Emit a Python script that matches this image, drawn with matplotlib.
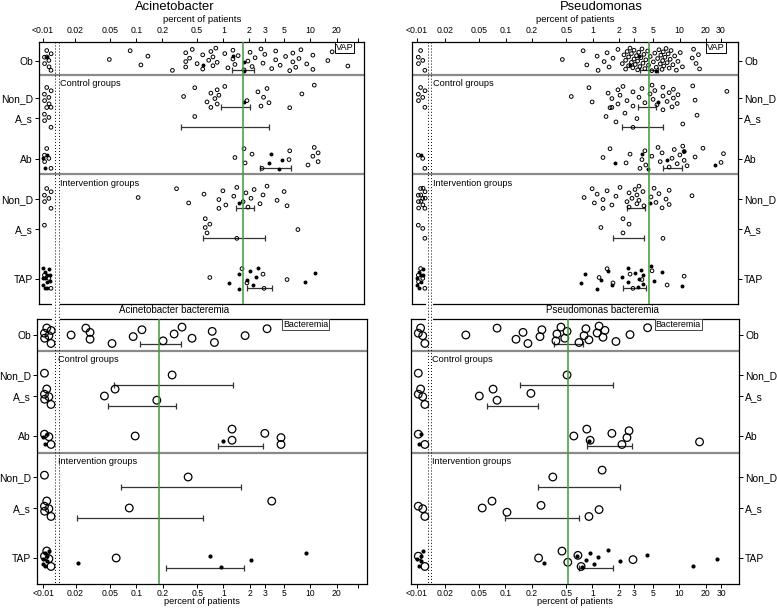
import matplotlib
matplotlib.use("Agg")
import matplotlib.pyplot as plt
from matplotlib.lines import Line2D
from matplotlib.patches import Rectangle
from matplotlib.ticker import NullLocator

plt.rcParams['font.family'] = ['Liberation Sans', 'DejaVu Sans']

W, H = 777, 609

row_keys = ["Ob", "Non_D c", "A_s c", "Ab c", "Non_D i", "A_s i", "TAP i"]
row_labels = ["Ob", "Non_D", "A_s", "Ab", "Non_D", "A_s", "TAP"]
tick_vals = [0.02, 0.05, 0.1, 0.2, 0.5, 1, 2, 3, 5, 10, 20]
tick_text = ["0.02", "0.05", "0.1", "0.2", "0.5", "1", "2", "3", "5", "10", "20"]

# percent of patients per study; 0 means "<0.01"
acin_vap_open = {
    "Ob": [0, 0, 0, 0, 0, 0, 0, 0, 0.049, 0.085, 0.113, 0.136, 0.26, 0.37, 0.37, 0.37, 0.41,
           0.44, 0.50, 0.58, 0.58, 0.68, 0.72, 0.76, 0.76, 0.82, 0.85, 1.04, 1.13, 1.29, 1.29,
           1.36, 1.48, 1.73, 1.92, 2.03, 2.14, 2.32, 2.71, 2.86, 3.0, 3.6, 4.0, 4.0, 4.5, 5.2,
           5.8, 6.3, 6.3, 6.8, 7.4, 7.8, 9.1, 10.7, 10.7, 15.9, 17.8, 27],
    "Non_D c": [0, 0, 0, 0, 0, 0, 0, 0.35, 0.47, 0.65, 0.72, 0.72, 0.80, 0.85, 0.85, 0.89, 1.04,
                1.87, 2.5, 2.71, 2.9, 3.18, 3.35, 8.0, 11.1],
    "A_s c": [0, 0, 0, 0, 0, 0.47, 5.8],
    "Ab c": [0, 0, 0, 0, 0, 1.36, 1.73, 1.78, 2.14, 2.79, 5.69, 5.8, 9.4, 10.7, 11.1, 12.3, 12.3],
    "Non_D i": [0, 0, 0, 0, 0, 0, 0.105, 0.29, 0.40, 0.60, 0.89, 0.89, 0.99, 1.07, 1.32, 1.43,
                1.69, 1.82, 1.92, 2.08, 2.26, 2.64, 2.86, 3.18, 4.15, 5.0, 5.4],
    "A_s i": [0, 0.62, 0.62, 0.65, 0.70, 1.43, 7.2],
    "TAP i": [0, 0, 0, 0.70, 1.64, 1.87, 2.86, 2.94, 5.4],
}
acin_vap_filled = {
    "Ob": [0, 0.58, 1.29, 1.73, 1.73],
    "Non_D c": [1.73],
    "Ab c": [0, 0, 0, 3.35, 3.54, 4.37, 4.73],
    "Non_D i": [1.52],
    "TAP i": [0, 0, 0, 0, 0, 0, 0, 0, 0, 0, 0, 0, 1.16, 1.52, 1.52, 1.87, 2.03, 2.2, 2.38, 2.5,
              8.7, 11.3],
}
acin_vap_ci = {"Ob": (1.27, 2.26), "Non_D c": (0.94, 2.03), "A_s c": (0.33, 3.35),
               "Ab c": (2.64, 6.0), "Non_D i": (1.40, 2.26), "A_s i": (0.58, 3.0),
               "TAP i": (1.87, 3.63)}

pseu_vap_open = {
    "Ob": [0, 0, 0, 0, 0, 0.45, 0.78, 0.86, 1.13, 1.16, 1.36, 1.47, 1.55, 1.72, 1.96, 2.2, 2.3,
           2.4, 2.4, 2.5, 2.6, 2.6, 2.7, 2.8, 2.8, 2.9, 3.0, 3.0, 3.1, 3.2, 3.3, 3.3, 3.4, 3.5,
           3.6, 3.7, 3.8, 3.9, 4.0, 4.1, 4.3, 4.4, 4.6, 4.8, 5.0, 5.2, 5.4, 5.6, 5.8, 6.0, 6.1,
           6.3, 6.4, 6.5, 6.6, 6.8, 7.0, 7.2, 7.4, 7.6, 7.8, 8.0, 8.4, 8.8, 9.2, 9.6, 10.2, 10.8,
           14.0, 14.5, 15.5, 16.5, 17.0],
    "Non_D c": [0, 0, 0, 0, 0, 0, 0.57, 0.91, 0.99, 1.51, 1.67, 1.67, 1.96, 1.96, 2.07, 2.24,
                2.49, 2.92, 2.92, 3.42, 3.7, 4.0, 4.58, 4.83, 4.97, 5.2, 5.5, 6.45, 6.45, 7.2,
                7.6, 8.2, 8.5, 8.5, 9.4, 9.6, 14.2, 15.1, 35],
    "A_s c": [1.43, 1.59, 1.86, 2.36, 2.92, 3.24, 6.45, 10.9, 15.9],
    "Ab c": [0, 0, 0, 1.32, 1.59, 2.43, 2.70, 3.51, 3.7, 4.0, 4.1, 4.8, 5.66, 6.0, 6.3, 7.6,
             8.2, 8.7, 9.4, 10.1, 10.9, 11.3, 11.3, 12.2, 15.1, 18.6, 30, 32],
    "Non_D i": [0, 0, 0, 0, 0, 0, 0, 0, 0, 0, 0, 0, 0.80, 0.99, 1.05, 1.13, 1.32, 1.32, 1.47,
                1.67, 1.86, 2.07, 2.49, 2.63, 2.63, 2.84, 3.08, 3.24, 3.24, 3.42, 3.42, 3.8,
                3.9, 4.7, 5.1, 5.36, 5.8, 6.3, 7.0, 7.6, 7.6, 13.9],
    "A_s i": [0, 0, 0, 1.25, 2.24, 2.24, 2.63, 6.45],
    "TAP i": [0, 0, 0, 0, 0, 1.19, 1.47, 1.72, 2.70, 2.92, 3.7, 4.83, 7.2, 11.3],
}
pseu_vap_filled = {
    "Ob": [2.7, 3.4, 5.3],
    "Non_D c": [5.66],
    "Ab c": [0, 1.81, 3.7, 4.3, 7.2, 11.3, 25.5],
    "Non_D i": [4.58],
    "TAP i": [0, 0, 0, 0, 0, 0, 0, 0, 0.74, 0.82, 1.13, 1.25, 1.51, 1.67, 2.18, 2.56, 2.56,
              3.08, 3.33, 3.42, 3.6, 3.8, 3.8, 4.7, 5.1, 6.3, 10.7],
}
pseu_vap_ci = {"Ob": (3.5, 5.7), "Non_D c": (3.33, 5.36), "A_s c": (2.18, 6.45),
               "Ab c": (6.45, 10.7), "Non_D i": (2.49, 4.0), "A_s i": (1.72, 3.9),
               "TAP i": (2.24, 4.1)}

acin_bact_open = {
    "Ob": [0, 0, 0, 0, 0, 0, 0.0178, 0.0263, 0.0294, 0.0294, 0.0526, 0.092, 0.116, 0.203,
           0.272, 0.335, 0.437, 0.745, 0.79, 1.78, 3.18],
    "Non_D c": [0, 0.258],
    "A_s c": [0, 0, 0, 0, 0, 0.043, 0.057, 0.172],
    "Ab c": [0, 0, 0, 0.097, 1.26, 1.26, 3.0, 4.6, 4.6],
    "Non_D i": [0, 0.394],
    "A_s i": [0, 0, 0, 0, 0, 0.083, 3.6],
    "TAP i": [0, 0, 0, 0, 0.0587],
}
acin_bact_filled = {
    "Ab c": [0, 0, 0, 0.99],
    "TAP i": [0, 0, 0, 0, 0, 0, 0, 0.0214, 0.70, 0.95, 2.08, 8.9],
}
acin_bact_ci = {"Ob": (0.11, 0.33), "Non_D c": (0.056, 1.29), "A_s c": (0.047, 0.288),
                "Ab c": (0.87, 2.86), "Non_D i": (0.067, 1.6), "A_s i": (0.021, 0.58),
                "TAP i": (0.219, 1.73)}

pseu_bact_open = {
    "Ob": [0, 0, 0, 0, 0.035, 0.080, 0.132, 0.159, 0.181, 0.249, 0.262, 0.38, 0.39, 0.434,
           0.48, 0.51, 0.70, 0.80, 0.84, 0.91, 1.13, 1.19, 1.32, 1.39, 1.86, 2.70, 4.3],
    "Non_D c": [0, 0.51],
    "A_s c": [0, 0, 0, 0, 0.050, 0.072, 0.080, 0.196],
    "Ab c": [0, 0, 0.61, 0.86, 0.94, 1.67, 2.18, 2.49, 2.63, 17],
    "Non_D i": [0.35, 1.29],
    "A_s i": [0, 0, 0, 0.054, 0.070, 0.104, 0.256, 0.91, 1.19],
    "TAP i": [0, 0, 0.24, 0.446, 0.52, 0.68, 0.74, 2.92],
}
pseu_bact_filled = {
    "Ab c": [0, 0, 0.91],
    "TAP i": [0, 0, 0, 0, 0, 0.277, 0.66, 0.76, 0.84, 0.94, 1.05, 1.16, 1.51, 2.07, 4.2,
              14.2, 27],
}
pseu_bact_ci = {"Ob": (0.36, 0.78), "Non_D c": (0.147, 1.72), "A_s c": (0.061, 0.236),
                "Ab c": (0.86, 2.84), "Non_D i": (0.236, 2.07), "A_s i": (0.099, 0.70),
                "TAP i": (0.70, 1.72)}

green_line = {"acin_vap": 1.7, "pseu_vap": 4.46, "acin_bact": 0.181, "pseu_bact": 0.52}


def fx(px):
    return px / W


def fy(py):
    return 1 - py / H


def seq(i, start, step=0.6180339887):
    return (start + i * step) % 1.0


fig = plt.figure(figsize=(W / 100, H / 100), dpi=100)

rows_top = [61, 98, 118, 159, 199, 229, 279]
rows_bot = [335, 375, 396, 436, 477, 508, 558]

panels = [
    # name, (l, t, r, b) in px, xlim, rows, open, filled, ci, right side, top panel
    ("acin_vap", (39, 42, 364, 304), (0.00762, 41.4), rows_top,
     acin_vap_open, acin_vap_filled, acin_vap_ci, False, True),
    ("pseu_vap", (412, 42, 738, 304), (0.00842, 47.0), rows_top,
     pseu_vap_open, pseu_vap_filled, pseu_vap_ci, True, True),
    ("acin_bact", (37, 319, 367, 584), (0.00722, 44.8), rows_bot,
     acin_bact_open, acin_bact_filled, acin_bact_ci, False, False),
    ("pseu_bact", (411, 319, 739, 584), (0.0082, 48.3), rows_bot,
     pseu_bact_open, pseu_bact_filled, pseu_bact_ci, True, False),
]

for name, (l, t, r, b), xlim, rows_y, opn, fil, ci, right, top in panels:
    ax = fig.add_axes([fx(l), fy(b), (r - l) / W, (b - t) / H])
    ax.set_xscale('log')
    ax.set_xlim(*xlim)
    ax.set_ylim(b, t)
    zero_x = 0.0095 if right else 0.0084
    band = (-13, 10) if top else (-9, 9)
    big = not top

    for k, y0 in zip(row_keys, rows_y):
        for vals, filled in ((opn.get(k, []), False), (fil.get(k, []), True)):
            xs, ys = [], []
            iz = inz = 0
            for v in vals:
                if v == 0:
                    xs.append(zero_x * 10 ** (0.1 * seq(iz, 0.2 + 0.3 * filled, 0.7548776662)))
                    ys.append(y0 + band[0] + (band[1] - band[0]) * seq(iz, 0.4, 0.5698402910))
                    iz += 1
                else:
                    xs.append(v)
                    ys.append(y0 + band[0] + (band[1] - band[0]) * seq(inz, 0.5 + 0.25 * filled))
                    inz += 1
            if filled:
                ax.scatter(xs, ys, s=9 if big else 8, color='black', lw=0, zorder=3)
            else:
                ax.scatter(xs, ys, s=30 if big else 7, facecolors='none', edgecolors='black',
                           linewidths=0.9 if big else 0.7, zorder=3)
        lo, hi = ci[k]
        mid = (lo * hi) ** 0.5
        ax.errorbar([mid], [y0 + (9.5 if big else 8.5)], xerr=[[mid - lo], [hi - mid]],
                    fmt='none', ecolor='#333333', elinewidth=0.9, capsize=2.2,
                    capthick=0.9, zorder=2)

    ax.axvline(green_line[name], color='#3f9a3f', lw=1.1, zorder=4)
    for yd in ((75, 174) if top else (351, 453)):
        ax.axhline(yd, color='#8a8a8a', lw=1.6, zorder=1)

    ax.text(0.065, 83 if top else 360, "Control groups", transform=ax.get_yaxis_transform(),
            fontsize=6.6, va='center', ha='left')
    ax.text(0.065, 183 if top else 462, "Intervention groups", transform=ax.get_yaxis_transform(),
            fontsize=6.6, va='center', ha='left')
    if top:
        ax.text(0.932 if right else 0.94, 47.5, "VAP", transform=ax.get_yaxis_transform(),
                fontsize=6.6, ha='center', va='center',
                bbox=dict(boxstyle='square,pad=0.12', fc='white', ec='black', lw=0.7))
    else:
        ax.text(0.815, 324.5, "Bacteremia", transform=ax.get_yaxis_transform(),
                fontsize=6.4, ha='center', va='center',
                bbox=dict(boxstyle='square,pad=0.1', fc='white', ec='#444444', lw=0.7))

    # axes ticks
    zero_tick = 0.0096 if right else 0.0085
    last = 30 if right else 35
    ax.set_xticks([zero_tick] + tick_vals + [last])
    ax.set_xticklabels(["<0.01"] + tick_text + (["30"] if right else [""]))
    ax.xaxis.set_minor_locator(NullLocator())
    if top:
        ax.xaxis.tick_top()
        ax.tick_params(axis='x', length=3, width=0.7, labelsize=6.3, pad=2.0)
    else:
        ax.tick_params(axis='x', length=3, width=0.7, labelsize=6.2, pad=0.3)
    ax.set_yticks(rows_y)
    ax.set_yticklabels(row_labels)
    if right:
        ax.yaxis.tick_right()
    ax.tick_params(axis='y', length=3, width=0.7, labelsize=7.4, pad=1.5)
    for sp in ax.spines.values():
        sp.set_linewidth(0.9)

# axis break at the "<0.01" zone
for x0, x1 in ((52, 60), (425.5, 432.5)):
    fig.add_artist(Rectangle((fx(x0), fy(322)), (x1 - x0) / W, 20 / H,
                             transform=fig.transFigure, fc='white', ec='none', zorder=5))
for xd in (55, 59, 428, 431):
    fig.add_artist(Line2D([fx(xd), fx(xd)], [fy(42), fy(584)], transform=fig.transFigure,
                          color='black', lw=0.7, ls=(0, (1, 2.1)), zorder=6))

# titles and axis labels
fig.text(fx(175), fy(10.5), "Acinetobacter", ha='center', va='baseline', fontsize=9.4)
fig.text(fx(601), fy(10.5), "Pseudomonas", ha='center', va='baseline', fontsize=9.4)
fig.text(fx(202), fy(22.5), "percent of patients", ha='center', va='baseline', fontsize=6.8)
fig.text(fx(575), fy(22.5), "percent of patients", ha='center', va='baseline', fontsize=6.8)
fig.text(fx(174), fy(313), "Acinetobacter bacteremia", ha='center', va='baseline', fontsize=7)
fig.text(fx(602), fy(313), "Pseudomonas bacteremia", ha='center', va='baseline', fontsize=7)
fig.text(fx(202), fy(604), "percent of patients", ha='center', va='baseline', fontsize=6.6)
fig.text(fx(575), fy(604), "percent of patients", ha='center', va='baseline', fontsize=6.6)

fig.savefig("out.png", dpi=100)
